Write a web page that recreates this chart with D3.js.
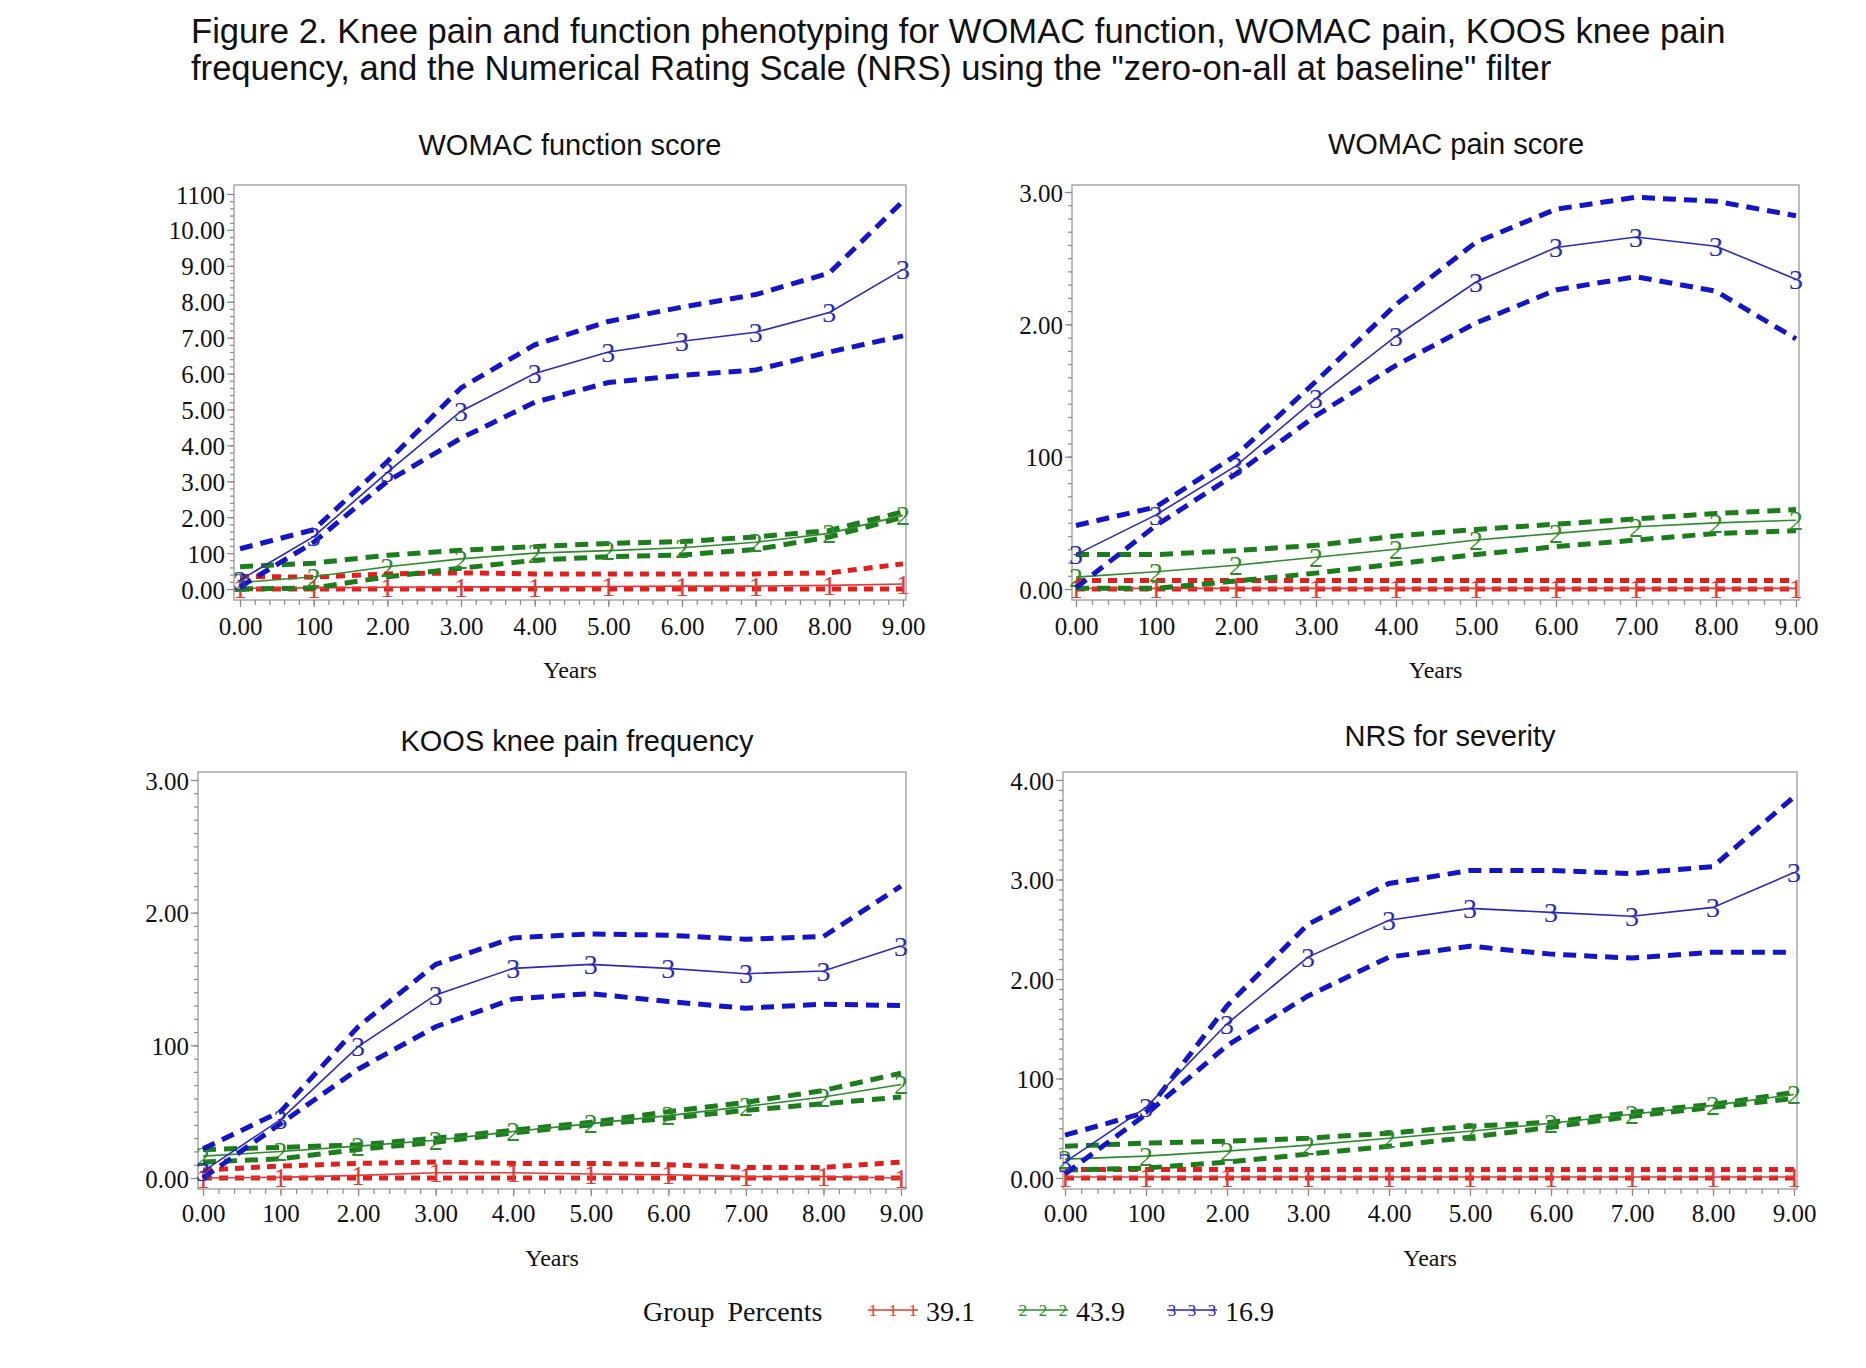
<!DOCTYPE html>
<html>
<head>
<meta charset="utf-8">
<script src="https://cdn.jsdelivr.net/npm/d3@7/dist/d3.min.js"></script>
<style>
  html, body { margin: 0; padding: 0; background: #fff; }
  svg { display: block; }
</style>
</head>
<body>
<svg id="chart" width="1866" height="1368"></svg>
<script>
// ---------------- DATA ----------------
const years = [0, 1, 2, 3, 4, 5, 6, 7, 8, 9];
const xTickLabels = ["0.00", "100", "2.00", "3.00", "4.00", "5.00", "6.00", "7.00", "8.00", "9.00"];
const groupLabels = ["39.1", "43.9", "16.9"];
const groupSymbols = ["1", "2", "3"];

// WOMAC function score
const wfMean1  = [0.02, 0.03, 0.05, 0.06, 0.06, 0.07, 0.08, 0.08, 0.10, 0.14];
const wfUpper1 = [0.35, 0.33, 0.42, 0.45, 0.42, 0.42, 0.42, 0.42, 0.45, 0.70];
const wfLower1 = [0.00, 0.00, 0.00, 0.00, 0.00, 0.00, 0.00, 0.00, 0.00, 0.00];
const wfMean2  = [0.18, 0.34, 0.62, 0.84, 1.00, 1.07, 1.15, 1.30, 1.55, 2.05];
const wfUpper2 = [0.62, 0.72, 0.94, 1.08, 1.18, 1.27, 1.32, 1.45, 1.63, 2.15];
const wfLower2 = [0.00, 0.03, 0.34, 0.58, 0.80, 0.90, 0.95, 1.10, 1.45, 2.00];
const wfMean3  = [0.25, 1.46, 3.25, 4.95, 6.00, 6.60, 6.90, 7.15, 7.70, 8.90];
const wfUpper3 = [1.12, 1.65, 3.55, 5.60, 6.80, 7.45, 7.85, 8.20, 8.80, 10.80];
const wfLower3 = [0.06, 1.30, 3.00, 4.20, 5.20, 5.75, 5.95, 6.10, 6.60, 7.05];
const wfYTicks = [0, 1, 2, 3, 4, 5, 6, 7, 8, 9, 10, 11];
const wfYLabels = ["0.00", "100", "2.00", "3.00", "4.00", "5.00", "6.00", "7.00", "8.00", "9.00", "10.00", "1100"];

// WOMAC pain score
const wpMean1  = [0.005, 0.005, 0.005, 0.005, 0.005, 0.005, 0.005, 0.005, 0.005, 0.005];
const wpUpper1 = [0.065, 0.065, 0.065, 0.065, 0.065, 0.065, 0.065, 0.065, 0.065, 0.065];
const wpLower1 = [0.00, 0.00, 0.00, 0.00, 0.00, 0.00, 0.00, 0.00, 0.00, 0.00];
const wpMean2  = [0.09, 0.13, 0.18, 0.24, 0.30, 0.37, 0.42, 0.47, 0.50, 0.52];
const wpUpper2 = [0.26, 0.26, 0.29, 0.33, 0.40, 0.45, 0.49, 0.53, 0.57, 0.60];
const wpLower2 = [0.005, 0.005, 0.06, 0.12, 0.19, 0.26, 0.32, 0.37, 0.42, 0.44];
const wpMean3  = [0.26, 0.56, 0.93, 1.44, 1.91, 2.32, 2.58, 2.66, 2.59, 2.34];
const wpUpper3 = [0.48, 0.62, 1.01, 1.57, 2.15, 2.62, 2.87, 2.96, 2.93, 2.82];
const wpLower3 = [0.01, 0.48, 0.87, 1.31, 1.69, 2.01, 2.26, 2.36, 2.25, 1.89];
const wpYTicks = [0, 1, 2, 3];
const wpYLabels = ["0.00", "100", "2.00", "3.00"];

// KOOS knee pain frequency
const kMean1  = [0.00, 0.005, 0.02, 0.04, 0.04, 0.03, 0.025, 0.01, 0.01, 0.00];
const kUpper1 = [0.06, 0.09, 0.11, 0.12, 0.11, 0.11, 0.10, 0.08, 0.08, 0.12];
const kLower1 = [0.00, 0.00, 0.00, 0.00, 0.00, 0.00, 0.00, 0.00, 0.00, 0.00];
const kMean2  = [0.165, 0.20, 0.24, 0.285, 0.35, 0.41, 0.47, 0.54, 0.61, 0.705];
const kUpper2 = [0.215, 0.23, 0.25, 0.30, 0.36, 0.42, 0.50, 0.57, 0.66, 0.79];
const kLower2 = [0.12, 0.145, 0.215, 0.27, 0.34, 0.40, 0.45, 0.51, 0.56, 0.61];
const kMean3  = [0.05, 0.44, 0.99, 1.38, 1.58, 1.61, 1.58, 1.54, 1.56, 1.75];
const kUpper3 = [0.22, 0.50, 1.14, 1.61, 1.81, 1.84, 1.83, 1.80, 1.82, 2.20];
const kLower3 = [0.00, 0.41, 0.82, 1.14, 1.35, 1.39, 1.33, 1.28, 1.31, 1.30];
const kYTicks = [0, 1, 2, 3];
const kYLabels = ["0.00", "100", "2.00", "3.00"];

// NRS for severity
const nMean1  = [0.01, 0.01, 0.01, 0.01, 0.01, 0.01, 0.01, 0.01, 0.01, 0.01];
const nUpper1 = [0.085, 0.085, 0.085, 0.085, 0.085, 0.085, 0.085, 0.085, 0.085, 0.085];
const nLower1 = [0.00, 0.00, 0.00, 0.00, 0.00, 0.00, 0.00, 0.00, 0.00, 0.00];
const nMean2  = [0.19, 0.22, 0.27, 0.33, 0.40, 0.47, 0.55, 0.64, 0.73, 0.84];
const nUpper2 = [0.32, 0.35, 0.37, 0.40, 0.45, 0.52, 0.56, 0.66, 0.74, 0.86];
const nLower2 = [0.08, 0.10, 0.16, 0.24, 0.32, 0.41, 0.51, 0.62, 0.71, 0.80];
const nMean3  = [0.16, 0.71, 1.55, 2.22, 2.59, 2.71, 2.67, 2.63, 2.72, 3.07];
const nUpper3 = [0.43, 0.66, 1.73, 2.55, 2.96, 3.09, 3.09, 3.06, 3.13, 3.83];
const nLower3 = [0.04, 0.64, 1.33, 1.83, 2.22, 2.33, 2.25, 2.21, 2.27, 2.27];
const nYTicks = [0, 1, 2, 3, 4];
const nYLabels = ["0.00", "100", "2.00", "3.00", "4.00"];

// ---------------- STYLE / LAYOUT ----------------
const colors = ["#e0201e", "#1d7d1d", "#1515c4"];
const meanColors = ["#e23a36", "#2e8a2e", "#2a2ab8"];
const dashes = ["9,7", "13,8", "13,8"];
const serif = "'Liberation Serif', 'Times New Roman', serif";
const sans = "'Liberation Sans', Arial, sans-serif";

const panels = [
  { title: "WOMAC function score", titleX: 570, titleY: 155,
    frame: { l: 234, r: 906, t: 185, b: 600 }, x0: 240, x9: 903, y0: 589, yTop: 194,
    yMax: 11, yTicks: wfYTicks, yLabels: wfYLabels, yMinorPer: 5, xLabelY: 635, yearsY: 678,
    groups: [[wfMean1, wfUpper1, wfLower1], [wfMean2, wfUpper2, wfLower2], [wfMean3, wfUpper3, wfLower3]] },
  { title: "WOMAC pain score", titleX: 1456, titleY: 154,
    frame: { l: 1072, r: 1799, t: 185, b: 600 }, x0: 1076, x9: 1796, y0: 589, yTop: 192,
    yMax: 3, yTicks: wpYTicks, yLabels: wpYLabels, yMinorPer: 10, xLabelY: 635, yearsY: 678,
    groups: [[wpMean1, wpUpper1, wpLower1], [wpMean2, wpUpper2, wpLower2], [wpMean3, wpUpper3, wpLower3]] },
  { title: "KOOS knee pain frequency", titleX: 577, titleY: 751,
    frame: { l: 198, r: 906, t: 772, b: 1189 }, x0: 203, x9: 901, y0: 1178, yTop: 780,
    yMax: 3, yTicks: kYTicks, yLabels: kYLabels, yMinorPer: 10, xLabelY: 1222, yearsY: 1266,
    groups: [[kMean1, kUpper1, kLower1], [kMean2, kUpper2, kLower2], [kMean3, kUpper3, kLower3]] },
  { title: "NRS for severity", titleX: 1450, titleY: 746,
    frame: { l: 1063, r: 1797, t: 772, b: 1189 }, x0: 1065, x9: 1794, y0: 1178, yTop: 780,
    yMax: 4, yTicks: nYTicks, yLabels: nYLabels, yMinorPer: 10, xLabelY: 1222, yearsY: 1266,
    groups: [[nMean1, nUpper1, nLower1], [nMean2, nUpper2, nLower2], [nMean3, nUpper3, nLower3]] }
];

const svg = d3.select("#chart");

// ---------------- TITLE ----------------
const titleLines = [
  "Figure 2. Knee pain and function phenotyping for WOMAC function, WOMAC pain, KOOS knee pain",
  "frequency, and the Numerical Rating Scale (NRS) using the \"zero-on-all at baseline\" filter"
];
const t1 = svg.append("text").attr("x", 191).attr("y", 43)
  .attr("font-family", sans).attr("font-size", 32).attr("fill", "#111").text(titleLines[0]);
const w1 = t1.node().getComputedTextLength();
const titleSize = 32 * 1535 / w1;
t1.attr("font-size", titleSize);
svg.append("text").attr("x", 191).attr("y", 80)
  .attr("font-family", sans).attr("font-size", titleSize).attr("fill", "#111").text(titleLines[1]);

// ---------------- PANELS ----------------
panels.forEach(p => {
  const g = svg.append("g");
  const x = d3.scaleLinear().domain([0, 9]).range([p.x0, p.x9]);
  const y = d3.scaleLinear().domain([0, p.yMax]).range([p.y0, p.yTop]);

  // panel title
  g.append("text").attr("x", p.titleX).attr("y", p.titleY).attr("text-anchor", "middle")
    .attr("font-family", sans).attr("font-size", 29).attr("fill", "#111").text(p.title);

  // frame
  g.append("rect").attr("x", p.frame.l).attr("y", p.frame.t)
    .attr("width", p.frame.r - p.frame.l).attr("height", p.frame.b - p.frame.t)
    .attr("fill", "none").attr("stroke", "#a8a8a8").attr("stroke-width", 1.5);

  // x axis minor + major ticks
  const xMinor = d3.range(0, 9.0001, 0.2);
  const xAxisMinor = d3.axisBottom(x).tickValues(xMinor).tickSize(5).tickFormat("");
  const gxm = g.append("g").attr("transform", `translate(0,${p.frame.b})`).call(xAxisMinor);
  const xAxis = d3.axisBottom(x).tickValues(years).tickSize(7)
    .tickFormat((d, i) => xTickLabels[i]);
  const gx = g.append("g").attr("transform", `translate(0,${p.frame.b})`).call(xAxis);
  [gxm, gx].forEach(a => {
    a.select(".domain").remove();
    a.selectAll(".tick line").attr("stroke", "#8a8a8a").attr("stroke-width", 1.2);
  });
  gx.selectAll(".tick text").attr("y", 0).attr("dy", 0)
    .attr("transform", `translate(0,${p.xLabelY - p.frame.b})`)
    .attr("font-family", serif).attr("font-size", 25).attr("fill", "#111");

  // y axis
  const yMinor = d3.range(0, p.yMax * p.yMinorPer + 0.5).map(i => i / p.yMinorPer);
  const yAxisMinor = d3.axisLeft(y).tickValues(yMinor).tickSize(4).tickFormat("");
  const gym = g.append("g").attr("transform", `translate(${p.frame.l},0)`).call(yAxisMinor);
  const yAxis = d3.axisLeft(y).tickValues(p.yTicks).tickSize(7)
    .tickFormat((d, i) => p.yLabels[i]);
  const gy = g.append("g").attr("transform", `translate(${p.frame.l},0)`).call(yAxis);
  [gym, gy].forEach(a => {
    a.select(".domain").remove();
    a.selectAll(".tick line").attr("stroke", "#8a8a8a").attr("stroke-width", 1.2);
  });
  gy.selectAll(".tick text").attr("x", -9).attr("dy", "0.36em")
    .attr("font-family", serif).attr("font-size", 25).attr("fill", "#111");

  // x axis title
  g.append("text").attr("x", (p.frame.l + p.frame.r) / 2).attr("y", p.yearsY)
    .attr("text-anchor", "middle").attr("font-family", serif).attr("font-size", 24)
    .attr("fill", "#111").text("Years");

  // series
  const line = d3.line().x((d, i) => x(years[i])).y(d => y(d));
  p.groups.forEach((grp, gi) => {
    const [mean, upper, lower] = grp;
    [upper, lower].forEach(ci => {
      g.append("path").attr("d", line(ci)).attr("fill", "none")
        .attr("stroke", colors[gi]).attr("stroke-width", 5)
        .attr("stroke-dasharray", dashes[gi]);
    });
    g.append("path").attr("d", line(mean)).attr("fill", "none")
      .attr("stroke", meanColors[gi]).attr("stroke-width", 1.6);
    g.selectAll(null).data(mean).enter().append("text")
      .attr("x", (d, i) => x(years[i])).attr("y", d => y(d))
      .attr("dy", "0.35em").attr("text-anchor", "middle")
      .attr("font-family", serif).attr("font-size", 28)
      .attr("fill", meanColors[gi]).text(groupSymbols[gi]);
  });
});

// ---------------- LEGEND ----------------
const lg = svg.append("g");
const legY = 1321;
lg.append("text").attr("x", 643).attr("y", legY).attr("font-family", serif)
  .attr("font-size", 28).attr("word-spacing", 6).attr("fill", "#111").text("Group Percents");
const legX = [868, 1018, 1167];
groupLabels.forEach((lab, i) => {
  const sx = d3.scaleLinear().domain([0, 2]).range([legX[i] + 5, legX[i] + 45]);
  lg.append("line").attr("x1", legX[i]).attr("x2", legX[i] + 50)
    .attr("y1", legY - 11).attr("y2", legY - 11).attr("stroke", meanColors[i]).attr("stroke-width", 1.6);
  [0, 1, 2].forEach(k => {
    lg.append("text").attr("x", sx(k)).attr("y", legY - 11).attr("dy", "0.35em")
      .attr("text-anchor", "middle").attr("font-family", serif).attr("font-size", 17)
      .attr("fill", meanColors[i]).text(groupSymbols[i]);
  });
  lg.append("text").attr("x", legX[i] + 58).attr("y", legY).attr("font-family", serif)
    .attr("font-size", 28).attr("fill", "#111").text(lab);
});
</script>
</body>
</html>
